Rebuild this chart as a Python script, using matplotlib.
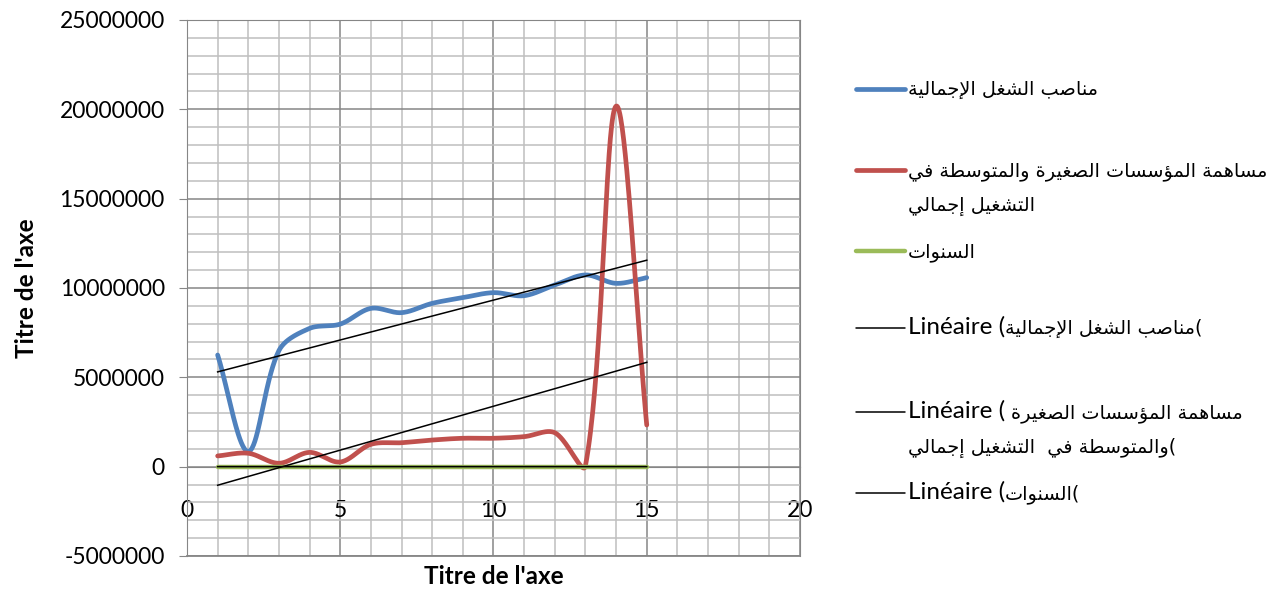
import numpy as np
import matplotlib
matplotlib.use("Agg")
import matplotlib.pyplot as plt
from matplotlib.lines import Line2D
from matplotlib.ticker import MultipleLocator, StrMethodFormatter

plt.rcParams['axes.unicode_minus'] = False

# data
x_vals = list(range(1, 16))
emplois_total = [6250000, 850000, 6500000, 7740000, 7980000, 8860000, 8620000, 9140000,
                 9460000, 9740000, 9570000, 10170000, 10730000, 10260000, 10580000]
contrib_pme = [600000, 750000, 190000, 800000, 260000, 1250000, 1340000, 1490000,
               1590000, 1590000, 1680000, 1900000, 50000, 20180000, 2330000]
annees = list(range(2000, 2015))

name_total = "مناصب الشغل الإجمالية"
name_pme_1 = "مساهمة المؤسسات الصغيرة والمتوسطة في"
name_pme_2 = "التشغيل إجمالي"
name_years = "السنوات"

# --- arabic shaping (isolated, final, initial, medial) ---
FORMS = {
    'ا': (0xFE8D, 0xFE8E, None, None),
    'إ': (0xFE87, 0xFE88, None, None),
    'ؤ': (0xFE85, 0xFE86, None, None),
    'ة': (0xFE93, 0xFE94, None, None),
    'ر': (0xFEAD, 0xFEAE, None, None),
    'و': (0xFEED, 0xFEEE, None, None),
}
for ch, base in [('ب', 0xFE8F), ('ت', 0xFE95), ('ج', 0xFE9D), ('س', 0xFEB1),
                 ('ش', 0xFEB5), ('ص', 0xFEB9), ('ط', 0xFEC1), ('غ', 0xFECD),
                 ('ف', 0xFED1), ('ل', 0xFEDD), ('م', 0xFEE1), ('ن', 0xFEE5),
                 ('ه', 0xFEE9), ('ي', 0xFEF1)]:
    FORMS[ch] = (base, base + 1, base + 2, base + 3)
LAM_ALEF = {'ا': (0xFEFB, 0xFEFC), 'إ': (0xFEF9, 0xFEFA), 'أ': (0xFEF7, 0xFEF8)}


def joins_next(c):
    return c in FORMS and FORMS[c][2] is not None


def shape(text):
    out = []
    i, n = 0, len(text)
    while i < n:
        c = text[i]
        if c not in FORMS:
            out.append(c)
            i += 1
            continue
        link_prev = i > 0 and joins_next(text[i - 1])
        if c == 'ل' and i + 1 < n and text[i + 1] in LAM_ALEF:
            iso, fin = LAM_ALEF[text[i + 1]]
            out.append(chr(fin if link_prev else iso))
            i += 2
            continue
        link_next = joins_next(c) and i + 1 < n and text[i + 1] in FORMS
        iso, fin, ini, med = FORMS[c]
        if link_prev and link_next:
            code = med
        elif link_prev:
            code = fin
        elif link_next:
            code = ini
        else:
            code = iso
        out.append(chr(code))
        i += 1
    return ''.join(out)


def rtl(text):
    return shape(text)[::-1]


def excel_smooth(ax, xs, ys, steps=40):
    # bezier smoothing in screen space, control arms scaled by chord length
    pts = ax.transData.transform(np.column_stack([xs, ys]))
    m = len(pts)
    curve = [pts[0]]
    t = np.linspace(0, 1, steps)[1:, None]
    for i in range(m - 1):
        p0 = pts[i - 1] if i > 0 else pts[i]
        p1, p2 = pts[i], pts[i + 1]
        p3 = pts[i + 2] if i + 2 < m else pts[i + 1]
        d01 = np.hypot(*(p1 - p0))
        d12 = np.hypot(*(p2 - p1))
        d23 = np.hypot(*(p3 - p2))
        c1 = p1 + (p2 - p0) * (d12 / (d01 + d12)) / 3
        c2 = p2 - (p3 - p1) * (d12 / (d12 + d23)) / 3
        seg = ((1 - t) ** 3) * p1 + 3 * ((1 - t) ** 2) * t * c1 + 3 * (1 - t) * t ** 2 * c2 + t ** 3 * p2
        curve.extend(seg)
    curve = ax.transData.inverted().transform(np.array(curve))
    return curve[:, 0], curve[:, 1]


W, H = 1276, 592
fig = plt.figure(figsize=(W / 100, H / 100), dpi=100)
ax = fig.add_axes([187 / W, 1 - 556 / H, 613 / W, 536 / H])
ax.set_xlim(0, 20)
ax.set_ylim(-5000000, 25000000)

grid_major = '#868686'
grid_minor = '#bfbfbf'
ax.xaxis.set_major_locator(MultipleLocator(5))
ax.xaxis.set_minor_locator(MultipleLocator(1))
ax.yaxis.set_major_locator(MultipleLocator(5000000))
ax.yaxis.set_minor_locator(MultipleLocator(1000000))
ax.grid(which='minor', color=grid_minor, lw=1.1, zorder=0)
ax.grid(which='major', color=grid_major, lw=1.1, zorder=0)
ax.set_axisbelow(True)

for side in ['top', 'right', 'left']:
    ax.spines[side].set_color(grid_major)
ax.spines['bottom'].set_position(('data', 0))
ax.spines['bottom'].set_color(grid_major)
ax.axhline(-5000000, color=grid_major, lw=1.3, clip_on=False, zorder=1)

latin = ['Lato', 'DejaVu Sans']
ax.yaxis.set_major_formatter(StrMethodFormatter('{x:.0f}'))
ax.tick_params(axis='y', which='major', direction='out', length=6, color=grid_major,
               pad=10, labelsize=16.5)
ax.tick_params(axis='x', which='major', length=0, pad=24, labelsize=16.5)
ax.tick_params(which='minor', length=0)
for lab in ax.get_xticklabels() + ax.get_yticklabels():
    lab.set_family(latin)

blue, red, green = '#4f81bd', '#c0504d', '#9bbb59'

bx, by = excel_smooth(ax, x_vals, emplois_total)
ax.plot(bx, by, color=blue, lw=3.4, solid_capstyle='round', zorder=3)
rx, ry = excel_smooth(ax, x_vals, contrib_pme)
ax.plot(rx, ry, color=red, lw=3.4, solid_capstyle='round', zorder=3)
gx, gy = excel_smooth(ax, x_vals, annees)
ax.plot(gx, gy, color=green, lw=3.2, solid_capstyle='round', zorder=3)

# linear trendlines
xt = np.array([x_vals[0], x_vals[-1]])
for series in [emplois_total, contrib_pme, annees]:
    k, b = np.polyfit(x_vals, series, 1)
    ax.plot(xt, k * xt + b, color='black', lw=1.1, zorder=4)

fig.text(494 / W, 1 - 577 / H, "Titre de l'axe", ha='center', va='center',
         fontsize=17.5, fontweight='bold', family=latin)
fig.text(27 / W, 1 - 288 / H, "Titre de l'axe", ha='center', va='center',
         rotation=90, fontsize=17.5, fontweight='bold', family=latin)

# legend: each text line is a list of (text, is_arabic) pieces laid out left to right
AR = (13.9, ['DejaVu Sans'])
LA = (17.5, latin)
entries = [
    (blue, 3.4, 89, [[(rtl(name_total), True)]]),
    (red, 3.4, 170, [[(rtl(name_pme_1), True)], [(rtl(name_pme_2), True)]]),
    (green, 3.2, 251, [[(rtl(name_years), True)]]),
    ('black', 1.1, 328, [[("Linéaire (", False), (rtl(name_total) + "(", True)]]),
    ('black', 1.1, 412, [[("Linéaire ( ", False), (rtl("مساهمة المؤسسات الصغيرة"), True)],
                         [(rtl("والمتوسطة في  التشغيل إجمالي") + "(", True)]]),
    ('black', 1.1, 493, [[("Linéaire (", False), (rtl(name_years) + "(", True)]]),
]
renderer = fig.canvas.get_renderer()
line_gap = 35
for color, lw, y, lines in entries:
    fig.add_artist(Line2D([856 / W, 905 / W], [1 - y / H] * 2, color=color, lw=lw,
                          solid_capstyle='round', transform=fig.transFigure))
    for j, pieces in enumerate(lines):
        x = 908
        base = y + j * line_gap + 6
        for txt, arabic in pieces:
            size, fam = AR if arabic else LA
            t = fig.text(x / W, 1 - base / H, txt, ha='left', va='baseline',
                         fontsize=size, family=fam)
            x += t.get_window_extent(renderer).width

fig.savefig('out.png', dpi=100)
